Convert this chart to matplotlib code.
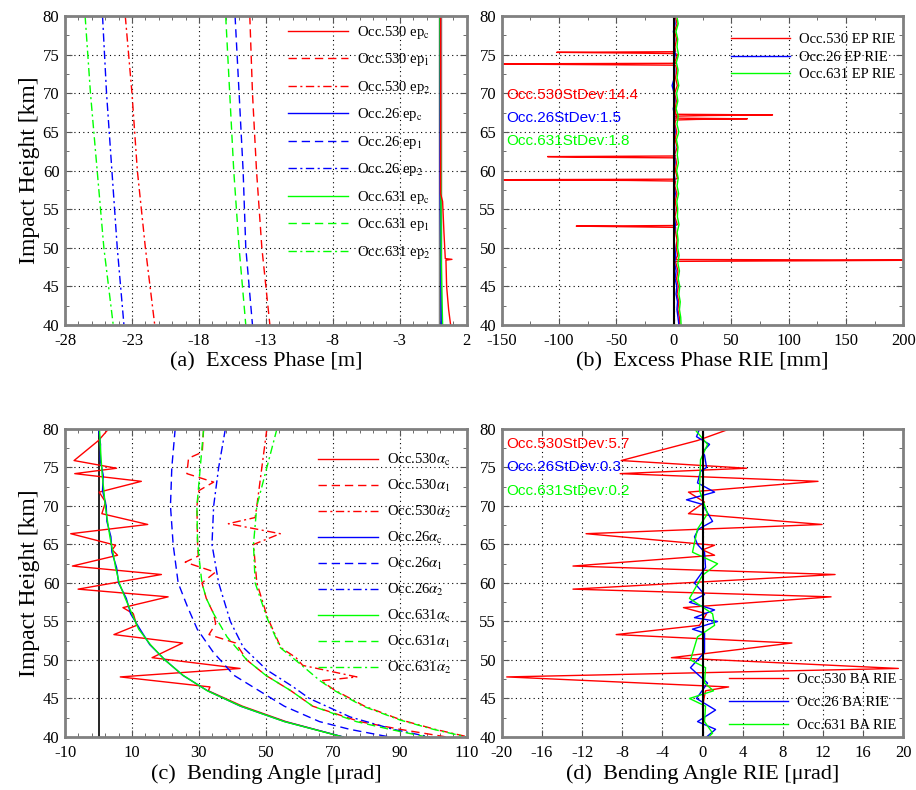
import numpy as np
import matplotlib
matplotlib.use("Agg")
import matplotlib.pyplot as plt
from matplotlib.ticker import MultipleLocator

plt.rcParams['font.family'] = ['Liberation Serif', 'DejaVu Serif']
plt.rcParams['mathtext.fontset'] = 'stix'
plt.rcParams['axes.unicode_minus'] = False

RED, BLUE, GREEN = '#ff0000', '#0000ff', '#00ff00'
DASH = (0, (6, 3.5))
DASHDOT = (0, (6, 2.5, 1.5, 2.5))

# ---------------- (a) excess phase [m] ----------------
h_ep = [80, 70, 60, 50, 40]
ep1_530 = [-14.2, -14.0, -13.7, -13.3, -12.7]
ep2_530 = [-23.5, -23.0, -22.6, -22.0, -21.3]
ep1_26 = [-15.3, -15.0, -14.7, -14.5, -14.0]
ep2_26 = [-25.2, -24.9, -24.5, -24.1, -23.6]
ep1_631 = [-16.0, -15.7, -15.4, -15.0, -14.5]
ep2_631 = [-26.5, -26.1, -25.6, -25.1, -24.4]

epc_530_h = [80, 57, 56, 52, 48.6, 48.5, 48.4, 45, 42, 40]
epc_530 = [0.05, 0.05, 0.2, 0.3, 0.4, 0.9, 0.45, 0.5, 0.65, 0.8]
epc_26_h = [80, 57, 40]
epc_26 = [0.0, 0.02, 0.1]
epc_631_h = [80, 48, 40]
epc_631 = [0.0, 0.1, 0.2]

# ---------------- (b) excess phase RIE [mm] ----------------
h_b = [80, 79, 78, 77, 76, 75, 74, 73, 72, 71, 70, 69, 68, 67, 66, 65, 64, 63, 62, 61,
       60, 59, 58, 57, 56, 55, 54, 53, 52, 51, 50, 49, 48, 47, 46, 45, 44, 43, 42, 41, 40]
rie_ep_530 = [1.2, 2.8, 0.6, 2.4, 1.0, 3.2, 0.8, 2.6, 1.5, 3.0, 0.7, 2.2, 1.3, 3.3, 0.9, 2.5,
              1.1, 2.9, 0.6, 2.3, 1.4, 3.1, 0.8, 2.7, 1.2, 2.4, 0.9, 3.0, 1.6, 2.8, 2.0, 3.4,
              1.8, 3.6, 2.4, 3.9, 2.8, 4.3, 3.5, 4.8, 5.2]
rie_ep_26 = [0.3, 1.1, -0.4, 0.8, 0.1, 1.3, -0.2, 0.9, 0.4, -1.5, 0.2, 1.0, -0.5, 0.7, 0.3, 1.2,
             -0.1, 0.8, 0.5, 1.1, -0.3, 0.9, 0.2, 1.3, 0.0, 0.7, 0.4, 1.4, 0.6, 0.3, 0.9, 1.6,
             0.7, 2.0, 1.1, 2.6, 1.9, 3.2, 2.7, 3.6, 4.4]
rie_ep_631 = [2.6, 3.8, 1.9, 3.4, 2.8, 4.1, 2.2, 3.7, 2.9, 4.3, 2.4, 3.5, 2.0, 3.9, 2.7, 4.4,
              2.3, 3.6, 3.0, 4.0, 2.5, 3.8, 2.8, 4.2, 2.6, 3.4, 3.1, 4.5, 2.9, 3.7, 3.3, 4.6,
              3.5, 4.9, 3.8, 5.2, 4.4, 5.6, 4.9, 6.0, 6.3]
# single-sample outliers of occ.530
spike_h = [75.3, 73.8, 67.2, 66.7, 61.8, 58.8, 52.8, 48.4]
spike_far = [-102, -170, 86, 64, -110, -170, -85, 230]
spike_near = [-45, -85, 30, 20, -80, -40, -40, 130]

# ---------------- (c) bending angle [urad] ----------------
h_ac = [80, 78, 76, 74, 72, 70, 68, 66, 64, 62, 60, 58, 56, 54, 52, 50, 48, 46, 44, 42, 40]
ac_631 = [0.3, 0.5, 0.8, 1.1, 1.6, 2.0, 2.7, 3.4, 4.3, 5.1, 6.2, 8.0, 10.0, 12.0, 15.5, 19.8,
          25.3, 32.5, 42.5, 55.5, 73.0]
ac_26 = [0.0, 0.6, 0.5, 1.4, 1.2, 2.3, 2.5, 3.7, 4.0, 5.4, 6.0, 8.3, 9.6, 12.4, 15.3, 19.9,
         25.2, 32.6, 42.4, 55.6, 73.2]
ac_530_h = [80, 78.5, 75.9, 74.9, 74.2, 73.2, 71.8, 70.5, 69.0, 67.6, 66.4, 64.9, 64.3, 63.6,
            62.2, 61.1, 59.2, 58.2, 56.8, 56.0, 54.5, 53.3, 52.2, 50.3, 48.9, 47.8, 46.5, 46.0,
            44, 42, 40]
ac_530 = [3.0, 0.0, -7.3, 5.4, -7.1, 12.8, 0.2, 2.1, 1.0, 14.7, -8.3, 5.1, 4.1, 5.7, -7.8, 18.8,
          -6.1, 20.8, 7.3, 10.4, 11.4, 4.6, 25.1, 16.0, 42.3, 6.5, 33.3, 32.8, 43.0, 56.0, 73.0]

a1_26_h = [80, 75, 70, 65, 60, 57, 54, 51, 48, 46, 44, 42, 41, 40]
a1_26 = [22.9, 21.9, 21.5, 22.3, 23.8, 26.5, 29.5, 34.3, 40.5, 48.0, 55.5, 66.0, 75.0, 87.0]
a1_631_h = [80, 75, 70, 65, 60, 58, 56, 53, 50, 48, 46, 44, 42, 41, 40]
a1_631 = [31.4, 30.4, 29.4, 29.6, 30.9, 32.2, 34.4, 38.4, 44.3, 50.0, 57.5, 64.0, 77.0, 87.0, 98.0]
a1_530_h = [80, 77, 76.2, 74.2, 73.1, 72, 70, 65, 63.5, 62.7, 61.4, 60, 58, 56, 54.7, 53.3,
            52.2, 50, 48, 46, 44, 42, 41, 40]
a1_530 = [31.4, 31.0, 26.9, 26.4, 34.4, 30.0, 29.4, 29.6, 29.8, 25.9, 34.9, 30.9, 32.2, 34.4,
          35.0, 33.0, 41.0, 44.3, 50.0, 57.5, 64.0, 78.0, 90.0, 104.0]
a2_26_h = [80, 75, 70, 65, 60, 55, 51.6, 48.7, 46.5, 45, 42.6, 41, 40]
a2_26 = [37.9, 35.9, 34.4, 33.9, 35.9, 39.4, 43.3, 50.3, 58.2, 63.0, 75.2, 88.0, 99.0]
a2_631_h = [80, 75, 70, 65, 60, 55.5, 51.6, 49.5, 47.3, 46.1, 44, 42.2, 41, 40]
a2_631 = [53.3, 50.3, 47.3, 46.3, 46.8, 50.3, 54.3, 60.2, 66.2, 70.2, 79.0, 90.1, 100.0, 110.0]
a2_530_h = [80, 75, 70, 68.5, 67.7, 66.4, 65, 60, 55.5, 51.6, 50.3, 49.3, 47.8, 47.3, 46.1, 44,
            42.2, 41, 40]
a2_530 = [50.3, 48.8, 47.3, 46.8, 38.8, 54.3, 46.3, 47.3, 50.5, 54.5, 59.0, 61.0, 77.2, 66.5,
          70.5, 79.5, 90.5, 100.5, 110.5]

# ---------------- (d) bending angle RIE [urad] ----------------
rie_ba_530_h = [80, 78.5, 75.9, 74.9, 74.2, 73.2, 71.8, 70.5, 69.0, 67.6, 66.4, 64.9, 64.3,
                63.6, 62.2, 61.1, 59.2, 58.2, 56.8, 56.0, 54.5, 53.3, 52.2, 50.3, 48.9, 47.8,
                46.5, 46.0, 44, 42, 40]
rie_ba_530 = [2.7, -0.5, -8.1, 4.4, -8.2, 11.5, -1.4, 0.2, -1.4, 11.9, -11.6, 1.2, 0.0, 1.2,
              -12.9, 13.2, -12.9, 12.8, -1.9, 0.4, -0.3, -8.6, 8.9, -3.1, 19.5, -19.5, 2.6,
              0.3, 0.0, 0.1, 0.0]
rie_ba_26_h = [80, 79, 78, 77, 76.6, 75, 74.5, 73, 71.8, 70.8, 70.2, 68, 67, 66, 65, 64, 62,
               60, 58.5, 57.5, 56.5, 55.5, 55, 54, 53.5, 51, 49, 47, 45, 43.5, 42, 41, 40]
rie_ba_26 = [-0.3, -0.6, 0.7, 0.0, 0.2, 0.4, -0.2, -0.5, 1.2, -1.6, 0.0, 1.0, -0.4, -0.8, -0.5,
             0.2, 0.3, -0.8, 0.2, -1.3, 1.2, -0.8, 1.5, -1.0, 0.2, 0.2, -1.2, 0.5, -0.6, 1.3,
             -0.5, 1.3, 0.4]
rie_ba_631_h = [80, 78, 76, 72, 69, 67, 64, 62.5, 61, 58, 56, 54.5, 53, 50, 49, 47, 46, 45,
                44, 42, 40.5, 40]
rie_ba_631 = [-0.8, 0.5, -0.2, -0.3, 0.5, -0.5, -1.0, 1.5, 0.0, -1.3, 1.0, 1.2, -0.5, -1.2,
              0.3, 0.2, 1.1, -1.3, 0.3, 0.2, 1.0, 0.6]

stdev_ep = [14.4, 1.5, 1.8]
stdev_ba = [5.7, 0.3, 0.2]
occ = ['530', '26', '631']

xticks_a = [-28, -23, -18, -13, -8, -3, 2]
xticks_b = [-150, -100, -50, 0, 50, 100, 150, 200]
xticks_c = [-10, 10, 30, 50, 70, 90, 110]
xticks_d = [-20, -16, -12, -8, -4, 0, 4, 8, 12, 16, 20]
yticks = [40, 45, 50, 55, 60, 65, 70, 75, 80]


def style_axes(ax, xticks, xminor, offset=0):
    ax.set_xlim(xticks[0], xticks[-1])
    ax.set_ylim(40, 80)
    ax.set_xticks(xticks)
    ax.set_yticks(yticks)
    ax.xaxis.set_minor_locator(MultipleLocator(xminor, offset=offset))
    ax.yaxis.set_minor_locator(MultipleLocator(2.5))
    ax.tick_params(which='both', direction='in', top=True, right=True, color='#555555',
                   labelsize=12)
    ax.tick_params(axis='x', pad=6)
    ax.tick_params(axis='y', pad=4)
    ax.tick_params(which='major', length=5)
    ax.tick_params(which='minor', length=3)
    ax.grid(True, which='major', color='black', linestyle=(0, (1, 3)), linewidth=0.8)
    for sp in ax.spines.values():
        sp.set_color('#808080')
        sp.set_linewidth(2)


fig = plt.figure(figsize=(9.16, 7.9), dpi=100)
ax_a = fig.add_axes([0.0710, 0.5886, 0.4385, 0.3911])
ax_b = fig.add_axes([0.5477, 0.5886, 0.4385, 0.3911])
ax_c = fig.add_axes([0.0710, 0.0671, 0.4385, 0.3899])
ax_d = fig.add_axes([0.5477, 0.0671, 0.4385, 0.3899])

# ---- (a)
style_axes(ax_a, xticks_a, 1)
ax_a.axvline(0, color='#808080', lw=2.5, zorder=1)
l_c26, = ax_a.plot(epc_26, epc_26_h, color=BLUE, lw=1)
l_c631, = ax_a.plot(epc_631, epc_631_h, color=GREEN, lw=1)
l_c530, = ax_a.plot(epc_530, epc_530_h, color=RED, lw=1)
l_1530, = ax_a.plot(ep1_530, h_ep, color=RED, lw=1, ls=DASH)
l_2530, = ax_a.plot(ep2_530, h_ep, color=RED, lw=1, ls=DASHDOT)
l_126, = ax_a.plot(ep1_26, h_ep, color=BLUE, lw=1, ls=DASH)
l_226, = ax_a.plot(ep2_26, h_ep, color=BLUE, lw=1, ls=DASHDOT)
l_1631, = ax_a.plot(ep1_631, h_ep, color=GREEN, lw=1, ls=DASH)
l_2631, = ax_a.plot(ep2_631, h_ep, color=GREEN, lw=1, ls=DASHDOT)
handles = [l_c530, l_1530, l_2530, l_c26, l_126, l_226, l_c631, l_1631, l_2631]
labels = []
for o in occ:
    for s in ['c', '1', '2']:
        labels.append('Occ.%s ep$_{\\mathrm{%s}}$' % (o, s))
ax_a.legend(handles, labels, loc='upper left', bbox_to_anchor=(0.555, 0.975), frameon=False,
            fontsize=10.5, handlelength=4.1, handletextpad=0.6, labelspacing=0.72,
            borderaxespad=0, borderpad=0)
ax_a.set_ylabel('Impact Height [km]', fontsize=17, labelpad=2)
ax_a.set_xlabel('(a)  Excess Phase [m]', fontsize=16, labelpad=2)

# ---- (b)
style_axes(ax_b, xticks_b, 25)
pts = list(zip(h_b, rie_ep_530))
for h, far, near in zip(spike_h, spike_far, spike_near):
    pts += [(h + 0.08, 1.5), (h, far), (h - 0.08, near), (h - 0.16, 1.5)]
pts.sort(key=lambda p: -p[0])
ax_b.plot([p[1] for p in pts], [p[0] for p in pts], color=RED, lw=1, label='Occ.530 EP RIE')
ax_b.plot(rie_ep_26, h_b, color=BLUE, lw=1, label='Occ.26 EP RIE')
ax_b.plot(rie_ep_631, h_b, color=GREEN, lw=1, label='Occ.631 EP RIE')
ax_b.axvline(0, color='black', lw=1.5)
ax_b.legend(loc='upper left', bbox_to_anchor=(0.57, 0.945), frameon=False, fontsize=10.5,
            handlelength=4.1, handletextpad=0.6, labelspacing=0.3, borderaxespad=0,
            borderpad=0)
for i, (o, s, c) in enumerate(zip(occ, stdev_ep, [RED, BLUE, GREEN])):
    ax_b.text(0.012, 0.745 - i * 0.075, 'Occ.%sStDev:%s' % (o, s), color=c,
              transform=ax_b.transAxes, family=['Liberation Sans', 'DejaVu Sans'],
              fontsize=11, va='center')
ax_b.set_xlabel('(b)  Excess Phase RIE [mm]', fontsize=16, labelpad=2)

# ---- (c)
style_axes(ax_c, xticks_c, 4, offset=2)
ax_c.axvline(0, color='black', lw=1.2)
m_c530, = ax_c.plot(ac_530, ac_530_h, color=RED, lw=1)
m_1530, = ax_c.plot(a1_530, a1_530_h, color=RED, lw=1, ls=DASH)
m_2530, = ax_c.plot(a2_530, a2_530_h, color=RED, lw=1, ls=DASHDOT)
m_c26, = ax_c.plot(ac_26, h_ac, color=BLUE, lw=1)
m_126, = ax_c.plot(a1_26, a1_26_h, color=BLUE, lw=1, ls=DASH)
m_226, = ax_c.plot(a2_26, a2_26_h, color=BLUE, lw=1, ls=DASHDOT)
m_c631, = ax_c.plot(ac_631, h_ac, color=GREEN, lw=1)
m_1631, = ax_c.plot(a1_631, a1_631_h, color=GREEN, lw=1, ls=DASH)
m_2631, = ax_c.plot(a2_631, a2_631_h, color=GREEN, lw=1, ls=DASHDOT)
handles = [m_c530, m_1530, m_2530, m_c26, m_126, m_226, m_c631, m_1631, m_2631]
labels = []
for o in occ:
    for s in ['c', '1', '2']:
        labels.append('Occ.%s$\\alpha_{\\mathrm{%s}}$' % (o, s))
ax_c.legend(handles, labels, loc='upper left', bbox_to_anchor=(0.63, 0.925), frameon=False,
            fontsize=10.5, handlelength=4.1, handletextpad=0.6, labelspacing=0.68,
            borderaxespad=0, borderpad=0)
ax_c.set_ylabel('Impact Height [km]', fontsize=17, labelpad=2)
ax_c.set_xlabel('(c)  Bending Angle [μrad]', fontsize=16, labelpad=2)

# ---- (d)
style_axes(ax_d, xticks_d, 4)
ax_d.plot(rie_ba_530, rie_ba_530_h, color=RED, lw=1, label='Occ.530 BA RIE')
ax_d.plot(rie_ba_26, rie_ba_26_h, color=BLUE, lw=1, label='Occ.26 BA RIE')
ax_d.plot(rie_ba_631, rie_ba_631_h, color=GREEN, lw=1, label='Occ.631 BA RIE')
ax_d.axvline(0, color='black', lw=1.5)
ax_d.legend(loc='lower left', bbox_to_anchor=(0.565, 0.015), frameon=False, fontsize=10.5,
            handlelength=4.1, handletextpad=0.6, labelspacing=0.68, borderaxespad=0,
            borderpad=0)
for i, (o, s, c) in enumerate(zip(occ, stdev_ba, [RED, BLUE, GREEN])):
    ax_d.text(0.012, 0.95 - i * 0.075, 'Occ.%sStDev:%s' % (o, s), color=c,
              transform=ax_d.transAxes, family=['Liberation Sans', 'DejaVu Sans'],
              fontsize=11, va='center')
ax_d.set_xlabel('(d)  Bending Angle RIE [μrad]', fontsize=16, labelpad=2)

fig.savefig('out.png', dpi=100)
